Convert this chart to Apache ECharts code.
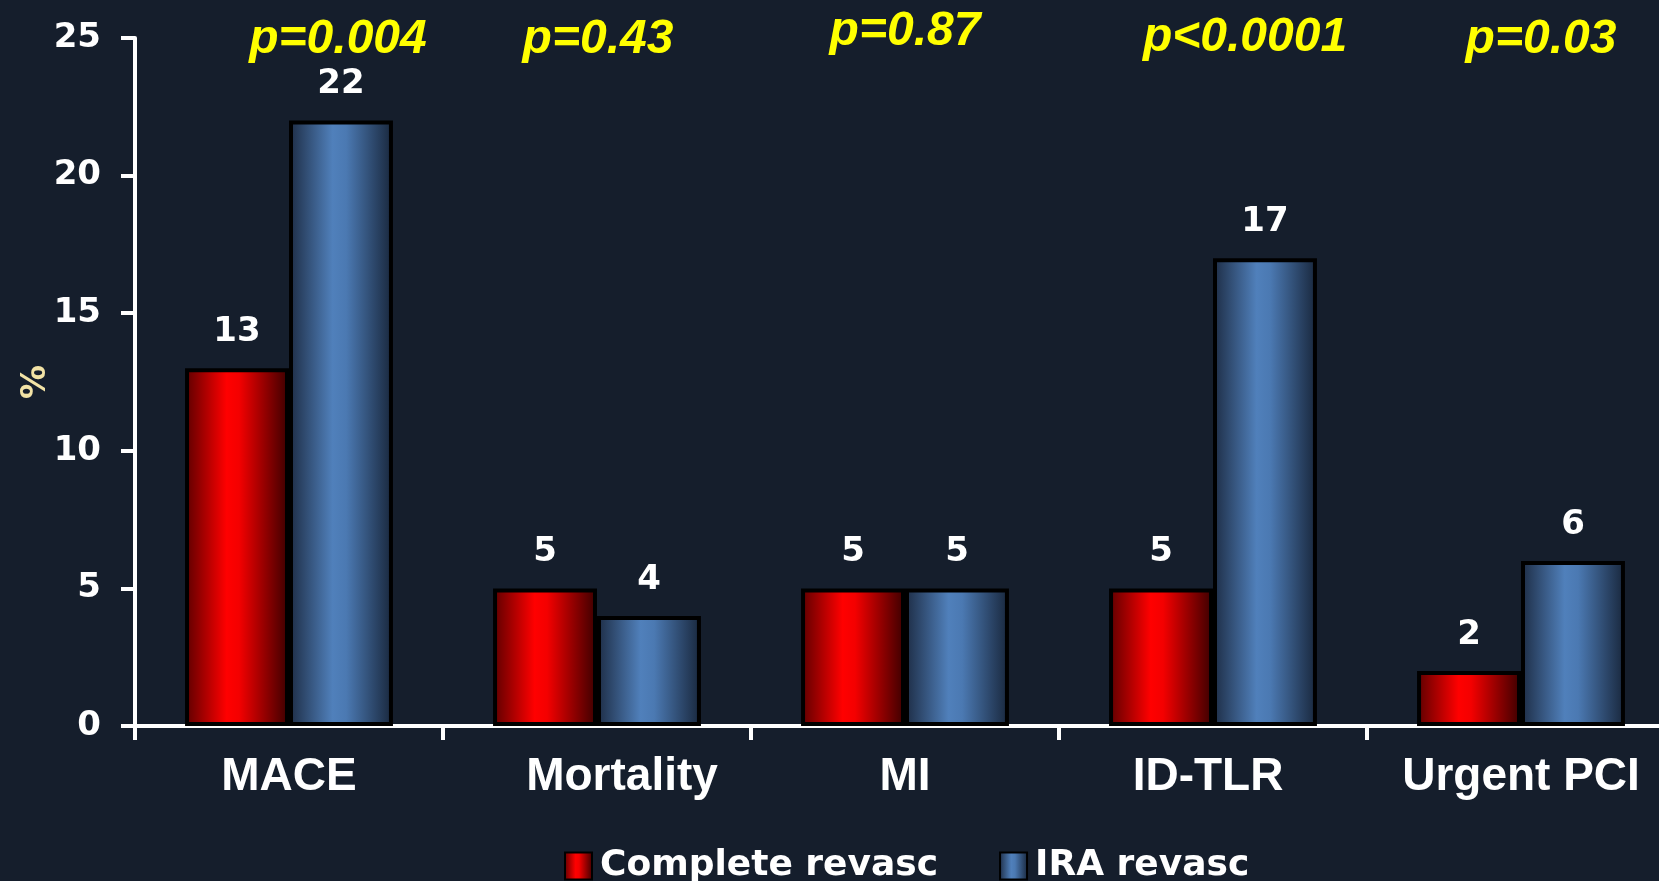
<!DOCTYPE html>
<html>
<head>
<meta charset="utf-8">
<script src="https://cdn.jsdelivr.net/npm/echarts@6/dist/echarts.min.js"></script>
<style>
html, body { margin: 0; padding: 0; background: #151e2c; overflow: hidden; }
#chart { width: 1700px; height: 881px; }
</style>
</head>
<body>
<div id="chart"></div>
<script>
// data
var categories = ['MACE', 'Mortality', 'MI', 'ID-TLR', 'Urgent PCI'];
var completeRevasc = [13, 5, 5, 5, 2];
var iraRevasc = [22, 4, 5, 17, 6];
var pValues = ['p=0.004', 'p=0.43', 'p=0.87', 'p<0.0001', 'p=0.03'];
var pLevel = 25; // p-values sit on the top of the axis

// hand placement of the p-value texts and category names (pixels)
var pShiftX = [49, 1, 0, 32, 20];
var pShiftY = [0, 0, -8, -2, 0];
var catPadLeft = [0, 50, 0, -10, 0];

var numFont = 'DejaVu Sans';
var catFont = 'Liberation Sans';

var redFill = new echarts.graphic.LinearGradient(0, 0, 1, 0, [
    { offset: 0, color: '#5c0000' },
    { offset: 0.4, color: '#ff0000' },
    { offset: 0.52, color: '#f40000' },
    { offset: 1, color: '#3a0000' }
]);
var blueFill = new echarts.graphic.LinearGradient(0, 0, 1, 0, [
    { offset: 0, color: '#1d2c44' },
    { offset: 0.42, color: '#5080bb' },
    { offset: 0.55, color: '#4b79b2' },
    { offset: 1, color: '#18263b' }
]);

var myChart = echarts.init(document.getElementById('chart'));

var valueLabel = {
    show: true,
    position: 'top',
    distance: 19,
    color: '#ffffff',
    fontFamily: numFont,
    fontWeight: 'bold',
    fontSize: 34
};

var option = {
    backgroundColor: '#151e2c',
    animation: false,
    grid: { left: 135, right: 25, top: 38, bottom: 155 },
    legend: {
        left: 559,
        top: 843,
        itemWidth: 27,
        itemHeight: 27,
        itemGap: 61,
        icon: 'rect',
        data: ['Complete revasc', 'IRA revasc'],
        textStyle: { color: '#ffffff', fontFamily: numFont, fontWeight: 'bold', fontSize: 36, padding: [0, 0, 0, 3] }
    },
    xAxis: {
        type: 'category',
        data: categories.map(function (c, i) {
            var pad = catPadLeft[i];
            return {
                value: c,
                textStyle: { padding: pad >= 0 ? [0, 0, 0, pad] : [0, -pad, 0, 0] }
            };
        }),
        axisLine: { lineStyle: { color: '#ffffff', width: 4 } },
        axisTick: { show: true, interval: 0, length: 14, lineStyle: { color: '#ffffff', width: 4 } },
        axisLabel: {
            interval: 0,
            margin: 28,
            color: '#ffffff',
            fontFamily: catFont,
            fontWeight: 'bold',
            fontSize: 46,
            textShadowColor: '#000000',
            textShadowOffsetX: 3,
            textShadowOffsetY: 3
        }
    },
    yAxis: {
        type: 'value',
        min: 0,
        max: 25,
        interval: 5,
        name: '%',
        nameLocation: 'middle',
        nameGap: 82,
        nameMoveOverlap: false,
        nameRotate: 90,
        nameTextStyle: { color: '#f2e3a6', fontFamily: numFont, fontWeight: 'bold', fontSize: 34 },
        splitLine: { show: false },
        axisLine: { show: true, lineStyle: { color: '#ffffff', width: 4 } },
        axisTick: { show: true, length: 14, lineStyle: { color: '#ffffff', width: 4 } },
        axisLabel: {
            margin: 34,
            color: '#ffffff',
            fontFamily: numFont,
            fontWeight: 'bold',
            fontSize: 34
        }
    },
    series: [
        {
            name: 'Complete revasc',
            type: 'bar',
            data: completeRevasc,
            barGap: '0%',
            barCategoryGap: '32.5%',
            itemStyle: { color: redFill, borderColor: '#000000', borderWidth: 4 },
            label: valueLabel
        },
        {
            name: 'IRA revasc',
            type: 'bar',
            data: iraRevasc,
            itemStyle: { color: blueFill, borderColor: '#000000', borderWidth: 4 },
            label: valueLabel
        },
        {
            name: 'p',
            type: 'scatter',
            symbolSize: 1,
            silent: true,
            itemStyle: { color: 'rgba(0,0,0,0)', opacity: 1 },
            data: pValues.map(function (p, i) {
                return {
                    value: [i, pLevel],
                    label: { offset: [pShiftX[i], pShiftY[i] + 2] }
                };
            }),
            label: {
                show: true,
                position: 'inside',
                formatter: function (params) { return pValues[params.dataIndex]; },
                color: '#ffff00',
                opacity: 1,
                fontFamily: catFont,
                fontStyle: 'italic',
                fontWeight: 'bold',
                fontSize: 48,
                textShadowColor: 'rgba(0,0,0,0.8)',
                textShadowOffsetX: 2,
                textShadowOffsetY: 3
            }
        }
    ]
};

myChart.setOption(option, true);
</script>
</body>
</html>
